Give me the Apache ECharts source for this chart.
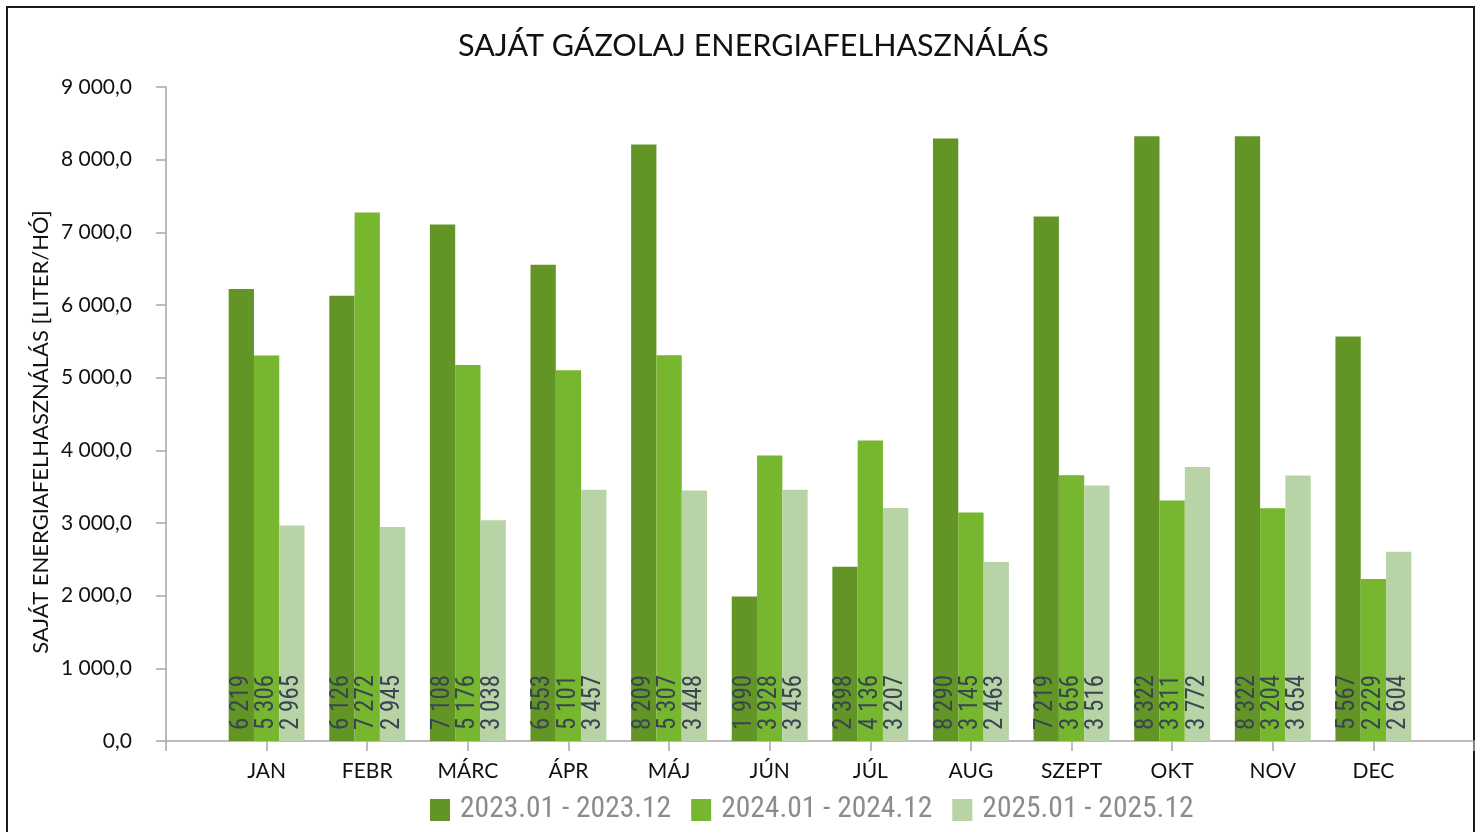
<!DOCTYPE html>
<html>
<head>
<meta charset="utf-8">
<title>Saját gázolaj energiafelhasználás</title>
<script src="https://cdn.jsdelivr.net/npm/echarts@6/dist/echarts.min.js"></script>
<style>
  html, body { margin: 0; padding: 0; background: #fff; }
  #main { width: 1481px; height: 832px; }
</style>
</head>
<body>
<div id="main"></div>
<script>
// hónapok + adatok (liter/hó)
var months = ['JAN', 'FEBR', 'MÁRC', 'ÁPR', 'MÁJ', 'JÚN', 'JÚL', 'AUG', 'SZEPT', 'OKT', 'NOV', 'DEC'];
var seriesNames = ['2023.01 - 2023.12', '2024.01 - 2024.12', '2025.01 - 2025.12'];
var data2023 = [6219, 6126, 7108, 6553, 8209, 1990, 2398, 8290, 7219, 8322, 8322, 5567];
var data2024 = [5306, 7272, 5176, 5101, 5307, 3928, 4136, 3145, 3656, 3311, 3204, 2229];
var data2025 = [2965, 2945, 3038, 3457, 3448, 3456, 3207, 2463, 3516, 3772, 3654, 2604];
var yTicks = [0, 1000, 2000, 3000, 4000, 5000, 6000, 7000, 8000, 9000];
var colors = ['#629526', '#77b62f', '#b8d4a6'];

var narrow = '"Liberation Sans Narrow", "Roboto Condensed", Roboto, sans-serif';
var gothic = 'Lato, "Noto Sans", sans-serif';

// ezres tagolás szóközzel
function sep(v) {
    return String(v).replace(/\B(?=(\d{3})+(?!\d))/g, ' ');
}

// üres hely az elején és a végén (mint az eredeti diagramon)
var cats = [''].concat(months).concat(['']);
function pad(arr) {
    return ['-'].concat(arr).concat(['-']);
}

var allData = [data2023, data2024, data2025];
var series = [];
for (var i = 0; i < allData.length; i++) {
    series.push({
        name: seriesNames[i],
        type: 'bar',
        data: pad(allData[i]),
        barWidth: 25.3,
        barGap: '0%',
        itemStyle: { color: colors[i] },
        label: {
            show: true,
            position: 'insideBottom',
            rotate: 90,
            align: 'left',
            verticalAlign: 'middle',
            distance: 11,
            color: '#3a4552',
            fontFamily: narrow,
            fontSize: 25,
            formatter: function (p) { return sep(p.value); }
        }
    });
}

var myChart = echarts.init(document.getElementById('main'));
myChart.setOption({
    animation: false,
    color: colors,
    title: {
        text: 'SAJÁT GÁZOLAJ ENERGIAFELHASZNÁLÁS',
        left: 458,
        top: 31,
        padding: 0,
        textStyle: { fontFamily: gothic, fontSize: 30.5, fontWeight: 'normal', color: '#111' }
    },
    legend: {
        left: 430,
        top: 795,
        padding: 0,
        itemWidth: 20,
        itemHeight: 22,
        itemGap: 20,
        icon: 'rect',
        textStyle: { fontFamily: narrow, fontSize: 29.5, color: '#8c8c8c', padding: [0, 0, 0, 5] },
        data: seriesNames
    },
    grid: { left: 166, right: 7, top: 87, bottom: 91, containLabel: false },
    xAxis: {
        type: 'category',
        data: cats,
        boundaryGap: false,
        axisLine: { lineStyle: { color: '#a6a6a6', width: 1.5 } },
        axisTick: { show: true, interval: 0, length: 10, lineStyle: { color: '#a6a6a6', width: 1.5 } },
        axisLabel: { interval: 0, margin: 20, fontFamily: gothic, fontSize: 21, color: '#111' },
        splitLine: { show: false }
    },
    yAxis: {
        type: 'value',
        min: yTicks[0],
        max: yTicks[yTicks.length - 1],
        interval: 1000,
        axisLine: { show: true, lineStyle: { color: '#a6a6a6', width: 1.5 } },
        axisTick: { show: true, length: 10, lineStyle: { color: '#a6a6a6', width: 1.5 } },
        axisLabel: {
            margin: 34,
            fontFamily: gothic,
            fontSize: 21,
            color: '#111',
            formatter: function (v) { return sep(v) + ',0'; }
        },
        splitLine: { show: false }
    },
    graphic: [
        {
            type: 'text',
            x: 41,
            y: 432,
            rotation: Math.PI / 2,
            style: {
                text: 'SAJÁT ENERGIAFELHASZNÁLÁS [LITER/HÓ]',
                align: 'center',
                verticalAlign: 'middle',
                fontFamily: gothic,
                fontSize: 22,
                fill: '#111'
            }
        },
        {
            type: 'rect',
            shape: { x: 7, y: 7, width: 1467, height: 900 },
            style: { fill: 'none', stroke: '#1a1a1a', lineWidth: 2 },
            silent: true
        }
    ],
    series: series
});
</script>
</body>
</html>
